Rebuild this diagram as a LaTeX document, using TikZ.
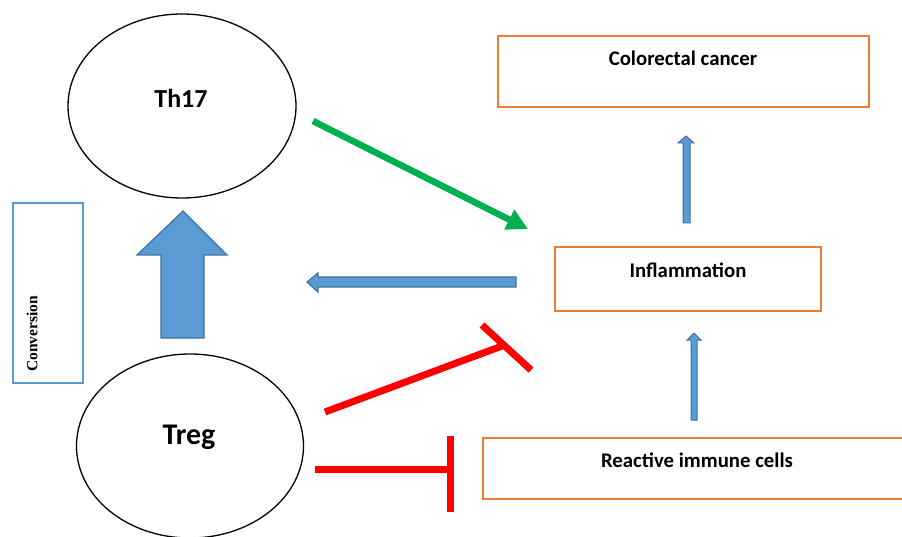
\documentclass[tikz,border=0pt]{standalone}
\usepackage{fontspec}
\setmainfont{Carlito}
\newfontfamily\convfont{Liberation Serif}
\usetikzlibrary{arrows.meta,shapes.geometric}
\definecolor{boxorange}{HTML}{ED7D31}
\definecolor{arrowblue}{HTML}{5B9BD5}
\definecolor{arrowedge}{HTML}{41719C}
\definecolor{greenarr}{HTML}{00B050}
\definecolor{redinh}{HTML}{FF0000}
\tikzset{
  cell/.style={ellipse, draw=black, line width=1.3pt, inner sep=0pt},
  obox/.style={rectangle, draw=boxorange, line width=1.8pt, inner sep=0pt},
  lbl/.style={font=\fontsize{20.8}{24}\bfseries\selectfont, inner sep=0pt},
  blockarrow/.style={fill=arrowblue, draw=arrowedge, line width=1.2pt, line join=miter},
  greenline/.style={draw=greenarr, line width=6.5pt, -{Triangle[length=21pt,width=21pt]}},
  redline/.style={draw=redinh, line width=7pt, line cap=butt}
}
\begin{document}
\begin{tikzpicture}[x=1pt,y=-1pt]
\useasboundingbox[fill=white] (0,0) rectangle (902,537);
% cells
\node[cell, minimum width=228pt, minimum height=184pt] (th17) at (182,106) {};
\node[font=\fontsize{26}{30}\bfseries\selectfont, inner sep=0pt] (th17text) at (181,98) {Th17};
\node[cell, minimum width=227pt, minimum height=184pt] (treg) at (190,446) {};
\node[font=\fontsize{30}{34}\bfseries\selectfont, inner sep=0pt] (tregtext) at (189,437) {Treg};
% conversion box
\node[rectangle, draw=arrowblue, line width=1.5pt, minimum width=70pt, minimum height=180pt, inner sep=0pt] (conv) at (48,293) {};
\node[rotate=90, font=\convfont\fontsize{15.5}{18}\bfseries\selectfont, inner sep=0pt] (convtext) at (32,334) {Conversion};
% orange boxes
\node[obox, minimum width=371pt, minimum height=71pt] (crc) at (683.5,71.5) {};
\node[lbl] (crctext) at (683,58) {Colorectal cancer};
\node[obox, minimum width=266pt, minimum height=64pt] (infl) at (688,279) {};
\node[lbl] (infltext) at (688,270) {Inflammation};
\node[obox, minimum width=440pt, minimum height=61pt] (ric) at (703,468.5) {};
\node[lbl] (rictext) at (697,460) {Reactive immune cells};
% block arrows
\draw[blockarrow] (161,338) -- (161,255) -- (137,255) -- (183,211) -- (227,255) -- (204,255) -- (204,338) -- cycle;
\draw[blockarrow] (516,277) -- (318,277) -- (318,273) -- (307,282) -- (318,292) -- (318,287) -- (516,287) -- cycle;
\draw[blockarrow, line width=1pt] (683,223) -- (683,143) -- (678,143) -- (686,136) -- (694,143) -- (690,143) -- (690,223) -- cycle;
\draw[blockarrow, line width=1pt] (691,420) -- (691,340) -- (687,340) -- (694,333) -- (701,340) -- (697,340) -- (697,420) -- cycle;
% green activation
\coordinate (gs) at (313,121);
\coordinate (ge) at (528,229);
\draw[greenline] (gs) -- (ge);
% red inhibitions
\coordinate (r1s) at (325,412);
\coordinate (r1e) at (502,346);
\coordinate (r1a) at (482,325);
\coordinate (r1b) at (531,370);
\draw[redline] (r1s) -- (r1e);
\draw[redline] (r1a) -- (r1b);
\coordinate (r2s) at (315,469);
\coordinate (r2e) at (448,469);
\coordinate (r2a) at (450,436);
\coordinate (r2b) at (450,512);
\draw[redline] (r2s) -- (r2e);
\draw[redline] (r2a) -- (r2b);
\end{tikzpicture}
\end{document}
